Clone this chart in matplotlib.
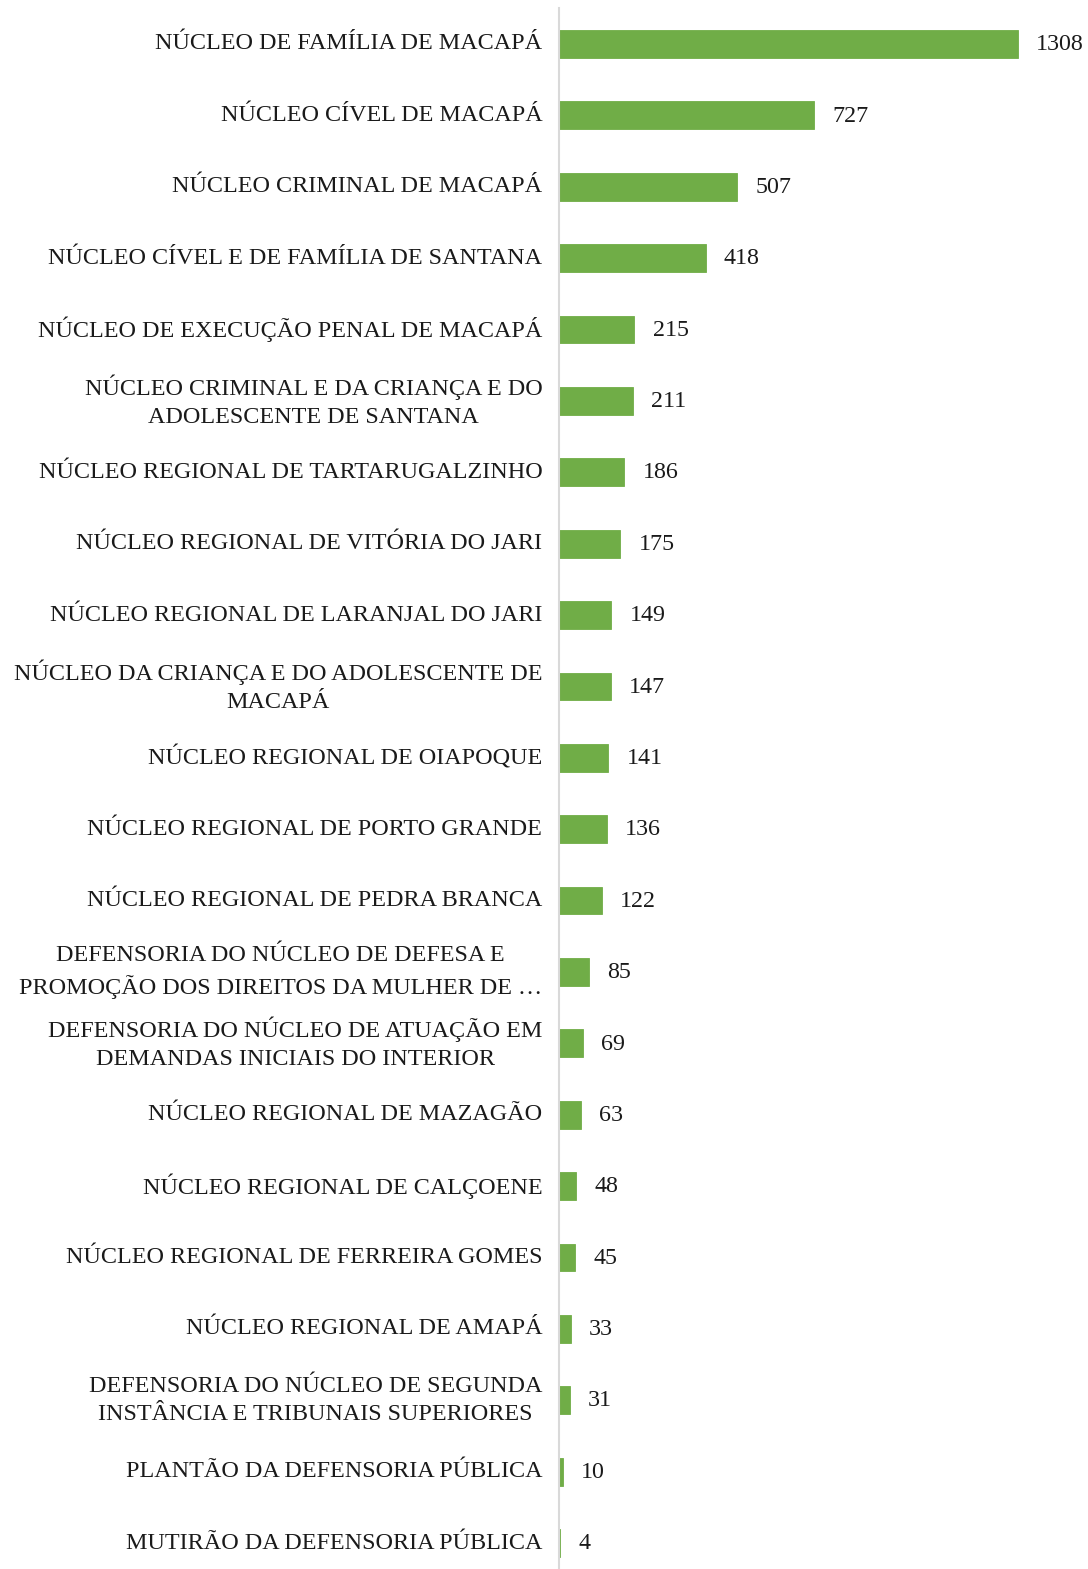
import matplotlib
matplotlib.use("Agg")
from matplotlib import pyplot as plt

# Categories (top to bottom) and their values
labels = [
    "NÚCLEO DE FAMÍLIA DE MACAPÁ",
    "NÚCLEO CÍVEL DE MACAPÁ",
    "NÚCLEO CRIMINAL DE MACAPÁ",
    "NÚCLEO CÍVEL E DE FAMÍLIA DE SANTANA",
    "NÚCLEO DE EXECUÇÃO PENAL DE MACAPÁ",
    "NÚCLEO CRIMINAL E DA CRIANÇA E DO\nADOLESCENTE DE SANTANA",
    "NÚCLEO REGIONAL DE TARTARUGALZINHO",
    "NÚCLEO REGIONAL DE VITÓRIA DO JARI",
    "NÚCLEO REGIONAL DE LARANJAL DO JARI",
    "NÚCLEO DA CRIANÇA E DO ADOLESCENTE DE\nMACAPÁ",
    "NÚCLEO REGIONAL DE OIAPOQUE",
    "NÚCLEO REGIONAL DE PORTO GRANDE",
    "NÚCLEO REGIONAL DE PEDRA BRANCA",
    "DEFENSORIA DO NÚCLEO DE DEFESA E\nPROMOÇÃO DOS DIREITOS DA MULHER DE …",
    "DEFENSORIA DO NÚCLEO DE ATUAÇÃO EM\nDEMANDAS INICIAIS DO INTERIOR",
    "NÚCLEO REGIONAL DE MAZAGÃO",
    "NÚCLEO REGIONAL DE CALÇOENE",
    "NÚCLEO REGIONAL DE FERREIRA GOMES",
    "NÚCLEO REGIONAL DE AMAPÁ",
    "DEFENSORIA DO NÚCLEO DE SEGUNDA\nINSTÂNCIA E TRIBUNAIS SUPERIORES",
    "PLANTÃO DA DEFENSORIA PÚBLICA",
    "MUTIRÃO DA DEFENSORIA PÚBLICA",
]
values = [1308, 727, 507, 418, 215, 211, 186, 175, 149, 147, 141,
          136, 122, 85, 69, 63, 48, 45, 33, 31, 10, 4]

plt.rcParams['font.family'] = ['Liberation Serif', 'DejaVu Serif']

fig = plt.figure(figsize=(10.88, 15.69), dpi=100)
ax = fig.add_axes([559 / 1088, 0, 529 / 1088, 1561 / 1569])

pos = list(range(len(values)))
ax.barh(pos, values, height=0.39, color='#70AD47',
        edgecolor='#70AD47', linewidth=0.6)

for y, v in zip(pos, values):
    ax.text(v + 52, y + 0.01, str(v), va='center', ha='left', fontsize=17.3, color='#1a1a1a')

ax.set_yticks(pos)
ax.set_yticklabels(labels, fontsize=17.4, color='#1a1a1a',
                   multialignment='center', linespacing=1.45, va='center')
ax.tick_params(axis='y', length=0, pad=12)
ax.set_xticks([])

ax.set_xlim(0, 1508)
ax.set_ylim(len(values) - 1 + 0.364, -0.504)

for s in ['top', 'right', 'bottom']:
    ax.spines[s].set_visible(False)
ax.spines['left'].set_color('#D9D9D9')
ax.spines['left'].set_linewidth(1.5)

fig.savefig('out.png', dpi=100)
